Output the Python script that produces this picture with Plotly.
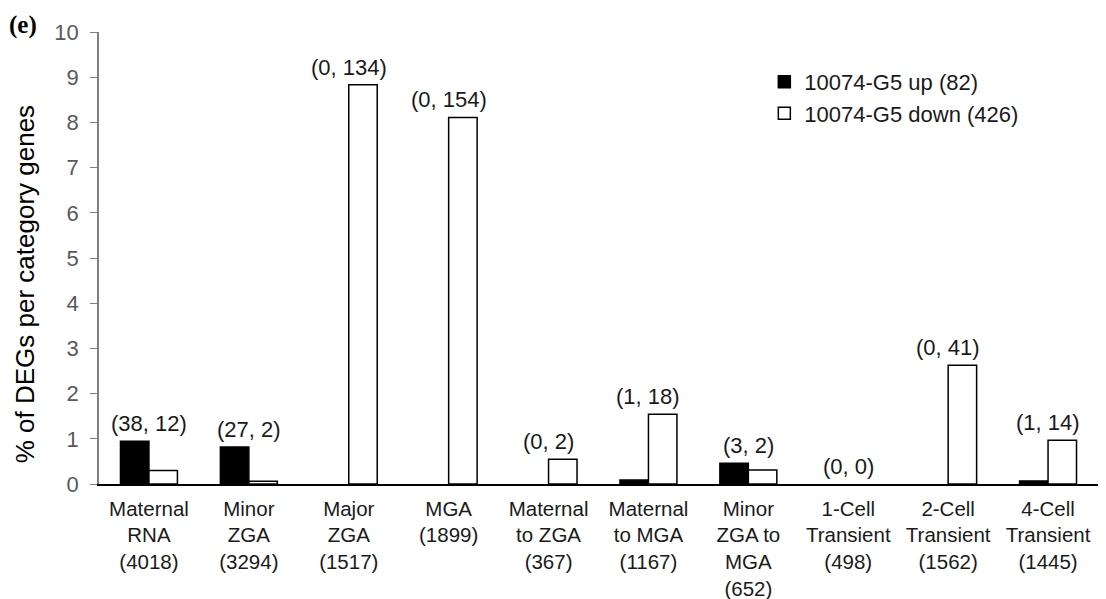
import plotly.graph_objects as go

categories = ["Maternal<br>RNA<br>(4018)", "Minor<br>ZGA<br>(3294)", "Major<br>ZGA<br>(1517)", "MGA<br>(1899)",
              "Maternal<br>to ZGA<br>(367)", "Maternal<br>to MGA<br>(1167)", "Minor<br>ZGA to<br>MGA<br>(652)",
              "1-Cell<br>Transient<br>(498)", "2-Cell<br>Transient<br>(1562)", "4-Cell<br>Transient<br>(1445)"]
up_values = [0.946, 0.820, 0.0, 0.0, 0.0, 0.086, 0.460, 0.0, 0.0, 0.069]
down_values = [0.299, 0.061, 8.833, 8.110, 0.545, 1.542, 0.307, 0.0, 2.625, 0.969]
count_labels = ["(38, 12)", "(27, 2)", "(0, 134)", "(0, 154)", "(0, 2)", "(1, 18)", "(3, 2)", "(0, 0)", "(0, 41)", "(1, 14)"]
series_names = ["10074-G5 up (82)", "10074-G5 down (426)"]
y_ticks = [0, 1, 2, 3, 4, 5, 6, 7, 8, 9, 10]
y_title = "% of DEGs per category genes"

font = "Liberation Sans, Arial, sans-serif"


def line_widths(values):
    return [1.5 if v > 0 else 0 for v in values]


fig = go.Figure()
fig.add_trace(go.Bar(x=categories, y=up_values, name=series_names[0],
                     marker=dict(color="black", line=dict(color="black", width=line_widths(up_values)))))
fig.add_trace(go.Bar(x=categories, y=down_values, name=series_names[1],
                     marker=dict(color="white", line=dict(color="black", width=line_widths(down_values)))))

for cat, u, d, lab in zip(categories, up_values, down_values, count_labels):
    fig.add_annotation(x=cat, y=max(u, d), text=lab, showarrow=False, yanchor="bottom",
                       yshift=3, font=dict(family=font, size=22, color="#1a1a1a"))

fig.add_annotation(x=-0.092, y=1.05, xref="paper", yref="paper", xanchor="left", yanchor="top",
                   text="<b>(e)</b>", showarrow=False,
                   font=dict(family="Liberation Serif, Times New Roman, serif", size=25, color="black"))

fig.add_annotation(x=-0.074, y=0.442, xref="paper", yref="paper", xanchor="center", yanchor="middle",
                   text=y_title, textangle=-90, showarrow=False,
                   font=dict(family=font, size=26, color="black"))

fig.update_layout(
    width=1106, height=599,
    margin=dict(l=91, r=16, t=24, b=123, autoexpand=False),
    paper_bgcolor="white", plot_bgcolor="white",
    barmode="group", bargap=0.43, bargroupgap=0,
    font=dict(family=font, size=22, color="#1a1a1a"),
    showlegend=True,
    legend=dict(x=0.666, y=0.936, xanchor="left", yanchor="top", bgcolor="rgba(0,0,0,0)",
                font=dict(family=font, size=22, color="#1a1a1a"), itemwidth=30),
)
fig.update_xaxes(showline=True, linecolor="black", linewidth=2, ticks="", showgrid=False,
                 tickfont=dict(family=font, size=20.5, color="#1a1a1a"), zeroline=False, automargin=False,
                 ticklabelstandoff=5)
fig.update_yaxes(range=[0, 10], tickvals=y_ticks, showline=True, linecolor="#7f7f7f", linewidth=1.5,
                 ticks="outside", ticklen=7, tickcolor="#7f7f7f", showgrid=False, zeroline=False,
                 tickfont=dict(family=font, size=22, color="#595959"), automargin=False,
                 ticklabelstandoff=7)

fig.write_html("out.html")
